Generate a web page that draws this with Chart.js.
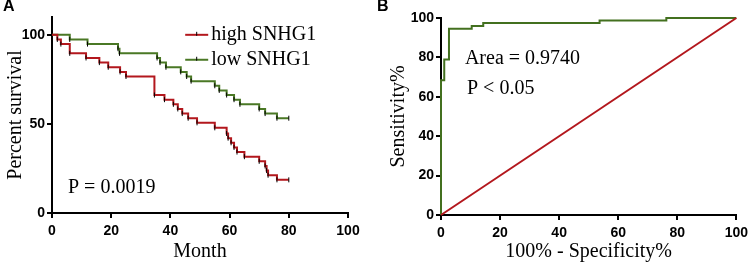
<!DOCTYPE html>
<html>
<head>
<meta charset="utf-8">
<script src="https://cdn.jsdelivr.net/npm/chart.js@4.4.1/dist/chart.umd.min.js"></script>
<style>
  html, body { margin: 0; padding: 0; background: #fff; }
  #wrap { position: relative; width: 753px; height: 269px; }
  #wrap canvas { position: absolute; top: 0; }
  .lbl { position: absolute; top: -3px; font: bold 16px "Liberation Sans", Arial, sans-serif; }
</style>
</head>
<body>
<div id="wrap">
  <canvas id="km" width="376" height="269" style="left:0"></canvas>
  <canvas id="roc" width="377" height="269" style="left:376px"></canvas>
  <div class="lbl" style="left:3px">A</div>
  <div class="lbl" style="left:377px">B</div>
</div>
<script>
// Panel A: Kaplan-Meier survival, months vs percent surviving
const highMonths = [0, 1.8, 3, 6, 11.5, 16, 19, 23, 25, 34.6, 38, 41, 42.5, 44, 46, 49, 55, 59, 59.5, 60.5, 61.5, 62.5, 65, 70, 72, 72.5, 73, 76, 80];
const highSurv   = [100, 97.4, 94.8, 89.6, 87, 84.4, 81.8, 79.2, 76.6, 66.2, 63.6, 61, 58.4, 55.8, 53.2, 50.6, 47.8, 44.6, 42, 39.4, 36.8, 34.2, 31.6, 29, 26.4, 23.8, 21.2, 18.6, 18.6];
const lowMonths  = [0, 6, 12, 22.3, 22.8, 35.5, 36.5, 38.5, 43.5, 45.5, 47, 55, 56.5, 59, 61.5, 63.5, 70, 72, 76, 80];
const lowSurv    = [100, 97.4, 94.8, 92.2, 89.6, 87, 84.4, 81.8, 79.2, 76.6, 74, 71.4, 68.8, 66.2, 63.6, 61, 58.4, 55.8, 53.2, 53.2];

// Panel B: ROC curve
const rocFpr = [0, 1.1, 2.7, 10.4, 14.3, 53.7, 76.3, 100];
const rocTpr = [0, 68.4, 78.9, 94.6, 96, 97.5, 98.7, 100];
const refLine = [0, 100];

const kmTicks = [0, 50, 100];

const RED = '#b3171d';
const GREEN = '#4a7825';
const SERIF = '"Liberation Serif", "Times New Roman", serif';
const SANS = '"Liberation Sans", Arial, sans-serif';

function pts(xs, ys) {
  return xs.map((x, i) => ({ x: x, y: ys[i] }));
}

function axis(min, max, step, title, fixed, dim, pad) {
  return {
    type: 'linear',
    min: min,
    max: max,
    ticks: { stepSize: step, color: '#000', padding: pad, font: { family: SANS, size: 14, weight: 'bold' } },
    grid: { drawOnChartArea: false, drawTicks: true, tickLength: 5, color: '#000', lineWidth: 2 },
    border: { color: '#000', width: 2 },
    title: { display: true, text: title, color: '#000', padding: { top: 4, bottom: 4 }, font: { family: SERIF, size: 20 } },
    afterFit: (s) => { s[dim] = fixed; }
  };
}

// text and legend drawn onto the plot
const notes = {
  id: 'notes',
  afterDatasetsDraw(chart, args, opts) {
    const ctx = chart.ctx;
    const xs = chart.scales.x, ys = chart.scales.y;
    ctx.save();
    ctx.font = '20px ' + SERIF;
    ctx.fillStyle = '#000';
    ctx.textBaseline = 'middle';
    (opts.texts || []).forEach(t => {
      ctx.fillText(t.text, xs.getPixelForValue(t.x), ys.getPixelForValue(t.y));
    });
    (opts.legend || []).forEach(l => {
      const x0 = xs.getPixelForValue(l.x);
      const y0 = ys.getPixelForValue(l.y);
      ctx.strokeStyle = l.color;
      ctx.lineWidth = 2;
      ctx.beginPath();
      ctx.moveTo(x0, y0);
      ctx.lineTo(x0 + 23, y0);
      ctx.stroke();
      ctx.strokeStyle = '#000';
      ctx.lineWidth = 1;
      ctx.beginPath();
      ctx.moveTo(x0 + 11.5, y0 - 3);
      ctx.lineTo(x0 + 11.5, y0 + 1);
      ctx.stroke();
      ctx.fillText(l.text, x0 + 26, y0);
    });
    ctx.restore();
  }
};

function censor(n) {
  return Array.from({ length: n }, (_, i) => i === 0 ? 0 : 2.5);
}

function kmSet(label, xs, ys, color) {
  return {
    label: label,
    data: pts(xs, ys),
    stepped: 'before',
    borderColor: color,
    borderWidth: 2,
    pointStyle: 'line',
    rotation: 90,
    pointRadius: censor(xs.length),
    pointBorderColor: '#000',
    pointBorderWidth: 1,
    clip: false
  };
}

new Chart(document.getElementById('km'), {
  type: 'line',
  data: {
    datasets: [
      kmSet('high SNHG1', highMonths, highSurv, RED),
      kmSet('low SNHG1', lowMonths, lowSurv, GREEN)
    ]
  },
  options: {
    responsive: false,
    animation: false,
    layout: { padding: { left: 0, right: 28, top: 17, bottom: 1 } },
    plugins: {
      legend: { display: false },
      tooltip: { enabled: false },
      notes: {
        texts: [{ text: 'P = 0.0019', x: 5.4, y: 14 }],
        legend: [
          { text: 'high SNHG1', x: 45, y: 100, color: RED },
          { text: 'low SNHG1', x: 45, y: 86, color: GREEN }
        ]
      }
    },
    scales: {
      x: axis(0, 100, 20, 'Month', 55, 'height', 5),
      y: Object.assign(axis(0, 110, 50, 'Percent survival', 52, 'width', 2), {
        afterBuildTicks: (s) => { s.ticks = kmTicks.map(v => ({ value: v })); }
      })
    }
  },
  plugins: [notes]
});

new Chart(document.getElementById('roc'), {
  type: 'line',
  data: {
    datasets: [
      {
        label: 'Reference',
        data: pts(refLine, refLine),
        borderColor: RED,
        borderWidth: 2,
        pointRadius: 0,
        clip: false
      },
      {
        label: 'ROC',
        data: pts(rocFpr, rocTpr),
        stepped: 'after',
        borderColor: '#43701f',
        borderWidth: 2,
        pointRadius: 0,
        clip: false
      }
    ]
  },
  options: {
    responsive: false,
    animation: false,
    layout: { padding: { left: 7, right: 16, top: 18, bottom: 1 } },
    plugins: {
      legend: { display: false },
      tooltip: { enabled: false },
      notes: {
        texts: [
          { text: 'Area = 0.9740', x: 8.1, y: 79.2 },
          { text: 'P < 0.05', x: 8.8, y: 64 }
        ]
      }
    },
    scales: {
      x: axis(0, 100, 20, '100% - Specificity%', 53, 'height', 5),
      y: axis(0, 100, 20, 'Sensitivity%', 58, 'width', 2)
    }
  },
  plugins: [notes]
});
</script>
</body>
</html>
